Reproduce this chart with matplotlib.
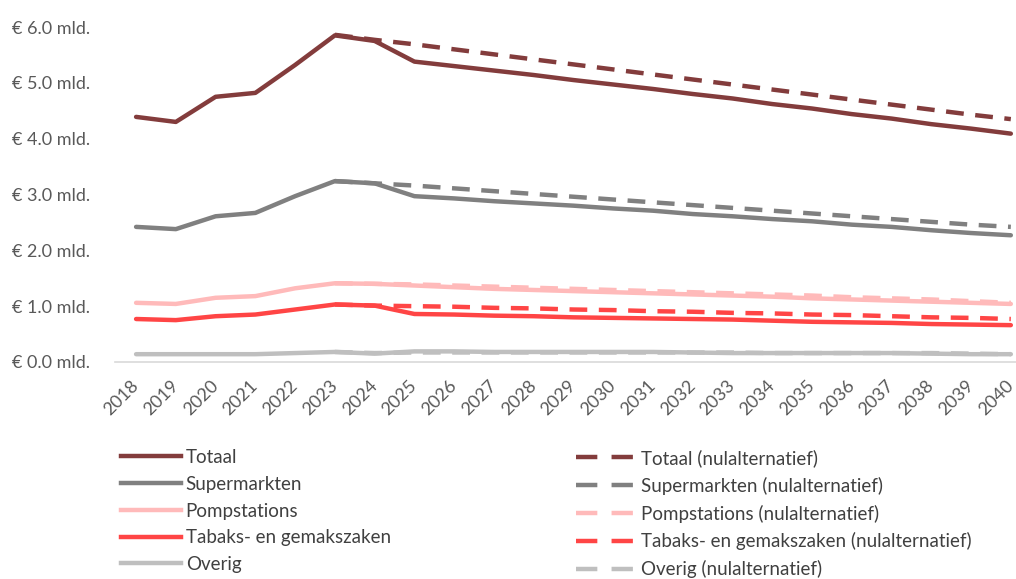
import matplotlib
matplotlib.use("Agg")
import matplotlib.pyplot as plt
from matplotlib.lines import Line2D

plt.rcParams['font.family'] = ['Lato', 'DejaVu Sans']

years = [str(y) for y in range(2018, 2041)]
scen_years = [str(y) for y in range(2023, 2041)]

totaal = [4.39, 4.30, 4.75, 4.82, 5.32, 5.85, 5.75, 5.38, 5.30, 5.22, 5.14, 5.05, 4.97,
          4.89, 4.80, 4.72, 4.62, 4.54, 4.44, 4.36, 4.26, 4.18, 4.09]
supermarkten = [2.42, 2.38, 2.61, 2.67, 2.97, 3.24, 3.20, 2.97, 2.93, 2.88, 2.84, 2.80, 2.75,
                2.71, 2.65, 2.61, 2.56, 2.52, 2.46, 2.42, 2.36, 2.31, 2.27]
pompstations = [1.06, 1.04, 1.15, 1.18, 1.32, 1.41, 1.40, 1.37, 1.34, 1.31, 1.29, 1.27, 1.25,
                1.23, 1.21, 1.19, 1.17, 1.14, 1.12, 1.10, 1.08, 1.06, 1.04]
tabaks = [0.77, 0.75, 0.82, 0.85, 0.94, 1.03, 1.01, 0.86, 0.85, 0.83, 0.82, 0.80, 0.79,
          0.78, 0.77, 0.76, 0.74, 0.72, 0.71, 0.70, 0.68, 0.67, 0.66]
overig = [0.14, 0.14, 0.14, 0.14, 0.16, 0.18, 0.15, 0.19, 0.19, 0.18, 0.18, 0.18, 0.18,
          0.18, 0.17, 0.16, 0.16, 0.16, 0.16, 0.16, 0.15, 0.14, 0.14]

totaal_nul = [5.86, 5.77, 5.69, 5.60, 5.51, 5.42, 5.33, 5.24, 5.15, 5.06, 4.97,
              4.88, 4.79, 4.70, 4.61, 4.52, 4.43, 4.35]
supermarkten_nul = [3.24, 3.20, 3.16, 3.11, 3.06, 3.01, 2.96, 2.91, 2.86, 2.81, 2.76,
                    2.71, 2.66, 2.61, 2.56, 2.51, 2.46, 2.42]
pompstations_nul = [1.41, 1.40, 1.39, 1.37, 1.35, 1.33, 1.31, 1.29, 1.27, 1.25, 1.23,
                    1.21, 1.19, 1.16, 1.14, 1.12, 1.09, 1.06]
tabaks_nul = [1.03, 1.01, 1.00, 0.99, 0.97, 0.96, 0.94, 0.93, 0.91, 0.90, 0.88,
              0.87, 0.85, 0.84, 0.82, 0.80, 0.79, 0.77]
overig_nul = [0.18, 0.16, 0.17, 0.17, 0.17, 0.17, 0.17, 0.17, 0.17, 0.17, 0.17,
              0.16, 0.16, 0.16, 0.16, 0.16, 0.15, 0.14]

labels = ["Totaal", "Supermarkten", "Pompstations", "Tabaks- en gemakszaken", "Overig"]
colors = ["#833C3C", "#808080", "#FFBABA", "#FF4545", "#BFBFBF"]
solid = [totaal, supermarkten, pompstations, tabaks, overig]
dashed = [totaal_nul, supermarkten_nul, pompstations_nul, tabaks_nul, overig_nul]
ytick_vals = [0, 1, 2, 3, 4, 5, 6]

fig = plt.figure(figsize=(10.16, 5.79), dpi=100)
ax = fig.add_axes([115/1016, 1 - 362/579, 901/1016, (362 - 27)/579])

xs = list(range(len(years)))
off = years.index(scen_years[0])
xd = [off + i for i in range(len(scen_years))]
lw = 3.2
for c, d in zip(colors, dashed):
    ax.plot(xd, d, color=c, lw=lw, ls=(0, (4, 2.6)), solid_capstyle='round')
for c, s in zip(colors, solid):
    ax.plot(xs, s, color=c, lw=lw, solid_capstyle='round', solid_joinstyle='round')

ax.set_xlim(-0.53, 22.13)
ax.set_ylim(0, 6.0)
ax.set_xticks(xs)
ax.set_xticklabels(years, rotation=45, ha='right', va='center', rotation_mode='anchor',
                   fontsize=13, color='#595959')
ax.set_yticks(ytick_vals)
ax.set_yticklabels([f"€ {v:.1f} mld." for v in ytick_vals], fontsize=13, color='#595959')
ax.tick_params(axis='x', length=0, pad=15)
for sp in ['top', 'right', 'left']:
    ax.spines[sp].set_visible(False)
ax.spines['bottom'].set_color('#D9D9D9')
ax.spines['bottom'].set_linewidth(1.2)
for lab in ax.get_yticklabels():
    lab.set_horizontalalignment('left')
ax.tick_params(axis='y', length=0, pad=74)

h1 = [Line2D([0], [0], color=c, lw=lw) for c in colors]
h2 = [Line2D([0], [0], color=c, lw=lw, ls=(0, (4.8, 3.2))) for c in colors]
leg_kw = dict(frameon=False, fontsize=13.5, labelcolor='#404040', handlelength=3.2,
              handletextpad=0.25, labelspacing=0.52, borderaxespad=0, borderpad=0)
l1 = fig.legend(h1, labels, loc='upper left', bbox_to_anchor=(121/1016, 1 - 449/579), **leg_kw)
l2 = fig.legend(h2, [l + " (nulalternatief)" for l in labels], loc='upper left',
                bbox_to_anchor=(576/1016, 1 - 449/579), **leg_kw)

fig.savefig("out.png", dpi=100, facecolor='white')
